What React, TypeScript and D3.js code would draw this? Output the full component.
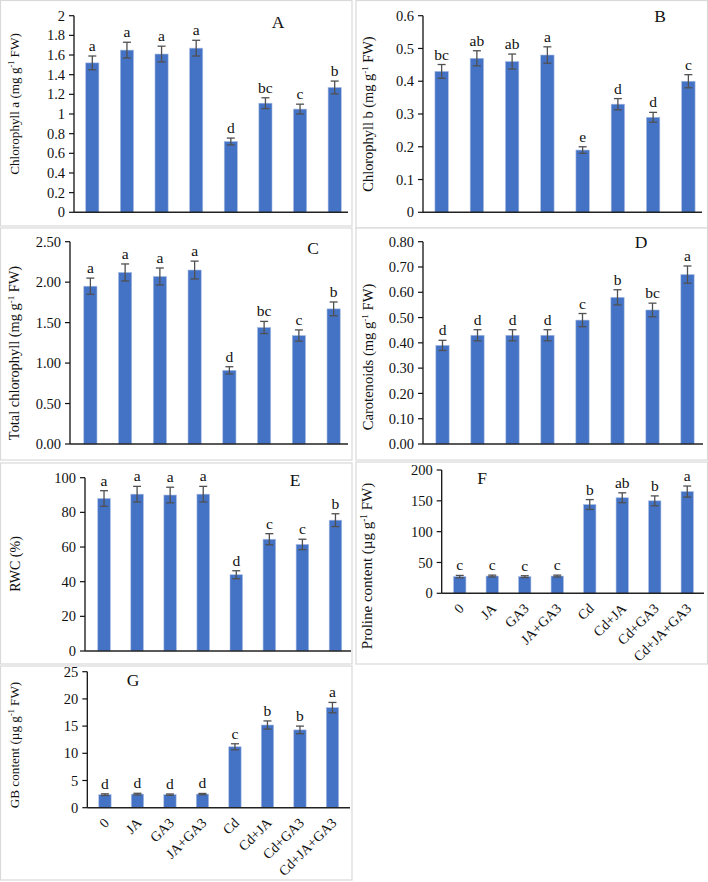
import React from "react";
import * as d3 from "d3";

const categories = ["0", "JA", "GA3", "JA+GA3", "Cd", "Cd+JA", "Cd+GA3", "Cd+JA+GA3"];

const chlA = [1.52, 1.65, 1.61, 1.67, 0.72, 1.11, 1.05, 1.27];
const chlAErr = [0.07, 0.08, 0.08, 0.08, 0.035, 0.055, 0.05, 0.065];
const chlALetters = ["a", "a", "a", "a", "d", "bc", "c", "b"];
const chlATicks = [0, 0.2, 0.4, 0.6, 0.8, 1, 1.2, 1.4, 1.6, 1.8, 2];

const chlB = [0.43, 0.47, 0.46, 0.48, 0.19, 0.33, 0.29, 0.4];
const chlBErr = [0.021, 0.023, 0.023, 0.025, 0.01, 0.017, 0.015, 0.02];
const chlBLetters = ["bc", "ab", "ab", "a", "e", "d", "d", "c"];
const chlBTicks = [0, 0.1, 0.2, 0.3, 0.4, 0.5, 0.6];

const chlT = [1.95, 2.12, 2.07, 2.15, 0.91, 1.44, 1.34, 1.67];
const chlTErr = [0.1, 0.105, 0.105, 0.11, 0.045, 0.075, 0.07, 0.085];
const chlTLetters = ["a", "a", "a", "a", "d", "bc", "c", "b"];
const chlTTicks = [0, 0.5, 1, 1.5, 2, 2.5];

const carot = [0.39, 0.43, 0.43, 0.43, 0.49, 0.58, 0.53, 0.67];
const carotErr = [0.02, 0.022, 0.022, 0.022, 0.026, 0.03, 0.027, 0.034];
const carotLetters = ["d", "d", "d", "d", "c", "b", "bc", "a"];
const carotTicks = [0, 0.1, 0.2, 0.3, 0.4, 0.5, 0.6, 0.7, 0.8];

const rwc = [88, 90.5, 90, 90.5, 44, 64.5, 61.5, 75.5];
const rwcErr = [4.5, 4.5, 4.5, 4.5, 2.3, 3.2, 3.0, 3.7];
const rwcLetters = ["a", "a", "a", "a", "d", "c", "c", "b"];
const rwcTicks = [0, 20, 40, 60, 80, 100];

const proline = [27, 28, 27, 28, 144, 155, 150, 165];
const prolineErr = [2, 1.5, 1.5, 1.5, 8, 8, 8, 9];
const prolineLetters = ["c", "c", "c", "c", "b", "ab", "b", "a"];
const prolineTicks = [0, 50, 100, 150, 200];

const gb = [2.4, 2.5, 2.4, 2.5, 11.2, 15.2, 14.3, 18.4];
const gbErr = [0.15, 0.15, 0.12, 0.12, 0.55, 0.75, 0.7, 0.95];
const gbLetters = ["d", "d", "d", "d", "c", "b", "b", "a"];
const gbTicks = [0, 5, 10, 15, 20, 25];

const FONT = "'Liberation Serif', 'Times New Roman', serif";
const BAR = "#4472C4";

type PanelCfg = {
  id: string;
  values: number[];
  errors: number[];
  letters: string[];
  ticks: number[];
  fmt: (v: number) => string;
  title: [string, string, string];
  titleSize: number;
  titleX: number;
  titleY: number;
  box: [number, number, number, number];
  axisX: number;
  bandX0: number;
  bandX1: number;
  axisEnd: number;
  yTop: number;
  yBottom: number;
  labelX: number;
  labelY: number;
  showX: boolean;
};

const f1 = (v: number) => String(+v.toFixed(1));
const f2 = (v: number) => v.toFixed(2);
const f0 = (v: number) => String(Math.round(v));

const panels: PanelCfg[] = [
  {
    id: "A", values: chlA, errors: chlAErr, letters: chlALetters, ticks: chlATicks, fmt: f1,
    title: ["Chlorophyll a (mg g", "-1", " FW)"], titleSize: 13.2, titleX: 14, titleY: 104,
    box: [0.5, 0.5, 352, 226], axisX: 74, bandX0: 75, bandX1: 352, axisEnd: 348,
    yTop: 15.7, yBottom: 212.3, labelX: 278, labelY: 28, showX: false,
  },
  {
    id: "B", values: chlB, errors: chlBErr, letters: chlBLetters, ticks: chlBTicks, fmt: f1,
    title: ["Chlorophyll b (mg g", "-1", " FW)"], titleSize: 14.4, titleX: 368, titleY: 114,
    box: [356, 0.5, 707.5, 228], axisX: 423, bandX0: 424, bandX1: 706, axisEnd: 702,
    yTop: 15.7, yBottom: 212.3, labelX: 660, labelY: 22, showX: false,
  },
  {
    id: "C", values: chlT, errors: chlTErr, letters: chlTLetters, ticks: chlTTicks, fmt: f2,
    title: ["Total chlorophyll (mg g", "-1", " FW)"], titleSize: 14.4, titleX: 14, titleY: 353,
    box: [0.5, 228, 352, 460], axisX: 70, bandX0: 73, bandX1: 351, axisEnd: 348,
    yTop: 241.7, yBottom: 444, labelX: 313, labelY: 254, showX: false,
  },
  {
    id: "D", values: carot, errors: carotErr, letters: carotLetters, ticks: carotTicks, fmt: f2,
    title: ["Carotenoids (mg g", "-1", " FW)"], titleSize: 14.6, titleX: 368, titleY: 357,
    box: [356, 228, 707.5, 460], axisX: 423, bandX0: 425, bandX1: 705, axisEnd: 703,
    yTop: 241.7, yBottom: 444, labelX: 641, labelY: 248, showX: false,
  },
  {
    id: "E", values: rwc, errors: rwcErr, letters: rwcLetters, ticks: rwcTicks, fmt: f0,
    title: ["RWC (%)", "", ""], titleSize: 14, titleX: 15, titleY: 564,
    box: [0.5, 463, 352, 664], axisX: 85, bandX0: 87.5, bandX1: 352, axisEnd: 351,
    yTop: 477.7, yBottom: 651, labelX: 295, labelY: 486, showX: false,
  },
  {
    id: "F", values: proline, errors: prolineErr, letters: prolineLetters, ticks: prolineTicks, fmt: f0,
    title: ["Proline content (µg g", "-1", " FW)"], titleSize: 15, titleX: 367, titleY: 566,
    box: [356, 462, 707.5, 664], axisX: 441.7, bandX0: 443.5, bandX1: 703.5, axisEnd: 704,
    yTop: 470, yBottom: 593.3, labelX: 482, labelY: 484, showX: true,
  },
  {
    id: "G", values: gb, errors: gbErr, letters: gbLetters, ticks: gbTicks, fmt: f0,
    title: ["GB content (µg g", "-1", " FW)"], titleSize: 13.2, titleX: 14, titleY: 745,
    box: [0.5, 666, 352, 880], axisX: 87.3, bandX0: 88.7, bandX1: 348.7, axisEnd: 350,
    yTop: 671.7, yBottom: 807.7, labelX: 133, labelY: 686, showX: true,
  },
];

function Panel({ p }: { p: PanelCfg }) {
  const yMax = p.ticks[p.ticks.length - 1];
  const y = d3.scaleLinear().domain([0, yMax]).range([p.yBottom, p.yTop]);
  const x = d3.scaleBand<string>().domain(categories).range([p.bandX0, p.bandX1]).paddingInner(0.62).paddingOuter(0.31);
  const bw = x.bandwidth();
  const [bx0, by0, bx1, by1] = p.box;
  return (
    <g>
      <rect x={bx0} y={by0} width={bx1 - bx0} height={by1 - by0} fill="#fff" stroke="#d9d9d9" strokeWidth={1.2} />
      {p.values.map((v, i) => {
        const cx = (x(categories[i]) as number) + bw / 2;
        const top = y(v + p.errors[i]);
        const bot = y(v - p.errors[i]);
        return (
          <g key={i}>
            <rect x={cx - bw / 2} y={y(v)} width={bw} height={y(0) - y(v)} fill={BAR} stroke="#a9bde3" strokeWidth={0.6} />
            <line x1={cx} x2={cx} y1={top} y2={bot} stroke="#505050" strokeWidth={1.3} />
            <line x1={cx - 4} x2={cx + 4} y1={top} y2={top} stroke="#505050" strokeWidth={1.3} />
            <line x1={cx - 4} x2={cx + 4} y1={bot} y2={bot} stroke="#505050" strokeWidth={1.3} />
            <text x={cx} y={top - 5} textAnchor="middle" fontFamily={FONT} fontSize={15.5} fill="#111">
              {p.letters[i]}
            </text>
          </g>
        );
      })}
      <line x1={p.axisX} x2={p.axisX} y1={p.yTop} y2={p.yBottom} stroke="#111" strokeWidth={1.3} />
      <line x1={p.axisX} x2={p.axisEnd} y1={p.yBottom} y2={p.yBottom} stroke="#222" strokeWidth={1.6} />
      {p.ticks.map((t, i) => (
        <g key={i}>
          <line x1={p.axisX - 5} x2={p.axisX} y1={y(t)} y2={y(t)} stroke="#111" strokeWidth={1.2} />
          <text x={p.axisX - 9} y={y(t)} dy="0.35em" textAnchor="end" fontFamily={FONT} fontSize={14.5} fill="#111">
            {p.fmt(t)}
          </text>
        </g>
      ))}
      <text
        transform={`translate(${p.titleX},${p.titleY}) rotate(-90)`}
        textAnchor="middle"
        dy="0.35em"
        fontFamily={FONT}
        fontSize={p.titleSize}
        fill="#111"
      >
        {p.title[0]}
        {p.title[1] && (
          <tspan fontSize={p.titleSize * 0.62} dy={-p.titleSize * 0.38}>
            {p.title[1]}
          </tspan>
        )}
        {p.title[2] && <tspan dy={p.title[1] ? p.titleSize * 0.38 : 0}>{p.title[2]}</tspan>}
      </text>
      <text x={p.labelX} y={p.labelY} textAnchor="middle" fontFamily={FONT} fontSize={17.5} fill="#111">
        {p.id}
      </text>
      {p.showX &&
        categories.map((c, i) => {
          const cx = (x(c) as number) + bw / 2;
          return (
            <text
              key={c}
              transform={`translate(${cx + 5},${p.yBottom + 16}) rotate(-45)`}
              textAnchor="end"
              fontFamily={FONT}
              fontSize={14}
              fill="#111"
            >
              {c}
            </text>
          );
        })}
    </g>
  );
}

export default function App() {
  return (
    <div style={{ position: "absolute", left: 0, top: 0 }}>
      <svg width={708} height={882} style={{ display: "block", background: "#fff" }}>
        {panels.map((p) => (
          <Panel key={p.id} p={p} />
        ))}
      </svg>
    </div>
  );
}
